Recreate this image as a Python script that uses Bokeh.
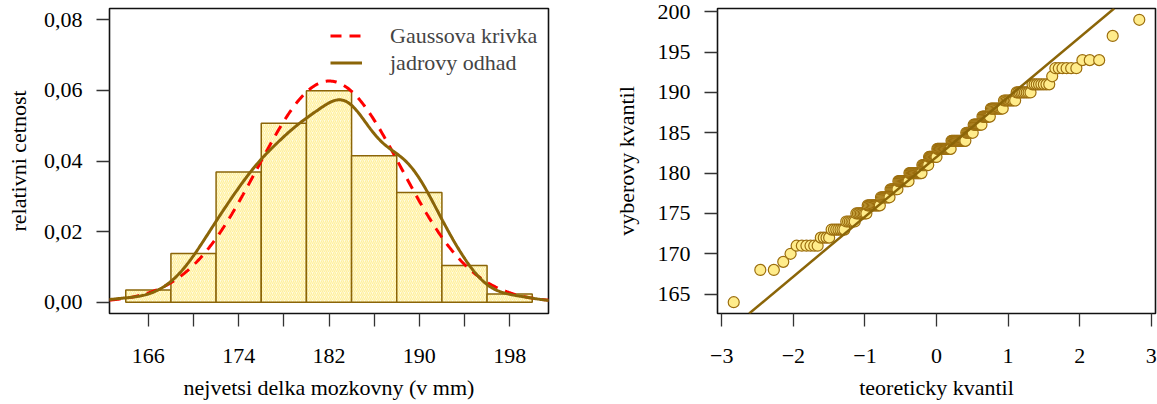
import numpy as np
from statistics import NormalDist
from bokeh.plotting import figure
from bokeh.layouts import row
from bokeh.models import FixedTicker, Range1d, Legend, LegendItem, Slope
from bokeh.embed import file_html
from bokeh.resources import INLINE

# ---- data ----
# sample values (mm) and how many times each occurs (read from the QQ plot steps)
values = [164, 168, 169, 170, 171, 172, 173, 174, 175, 176, 177, 178, 179, 180, 181,
          182, 183, 184, 185, 186, 187, 188, 189, 190, 191, 192, 193, 194, 197, 199]
freqs = [1, 2, 1, 1, 6, 4, 7, 6, 8, 11, 9, 8, 12, 15, 8,
         10, 17, 17, 8, 9, 8, 11, 9, 9, 8, 1, 6, 3, 1, 1]
breaks = [164, 168, 172, 176, 180, 184, 188, 192, 196, 200]
hist_ylim = [0.0, 0.08]

hist_xticks = [166, 170, 174, 178, 182, 186, 190, 194, 198]
hist_xlabels = ["166", "", "174", "", "182", "", "190", "", "198"]
hist_yticks = [0.0, 0.02, 0.04, 0.06, 0.08]
hist_ylabels = ["0,00", "0,02", "0,04", "0,06", "0,08"]
qq_xticks = [-3, -2, -1, 0, 1, 2, 3]
qq_xlabels = ["\u22123", "\u22122", "\u22121", "0", "1", "2", "3"]
qq_yticks = [165, 170, 175, 180, 185, 190, 195, 200]
qq_ylabels = ["165", "170", "175", "180", "185", "190", "195", "200"]
legend_labels = ["Gaussova krivka", "jadrovy odhad"]
titles = {"hx": "nejvetsi delka mozkovny (v mm)", "hy": "relativni cetnost",
          "qx": "teoreticky kvantil", "qy": "vyberovy kvantil"}

# ---- statistics ----
sample = np.sort(np.repeat(np.array(values, float), freqs))
n = len(sample)
counts = []
for i in range(len(breaks) - 1):
    lo, hi = breaks[i], breaks[i + 1]
    c = np.sum((sample > lo) & (sample <= hi))
    if i == 0:
        c += np.sum(sample == lo)
    counts.append(c)
counts = np.array(counts, float)
widths = np.diff(breaks)
dens = counts / (n * widths)

mean = sample.mean()
sd = sample.std(ddof=1)
q1, q3 = np.quantile(sample, [0.25, 0.75])
bw = 0.9 * min(sd, (q3 - q1) / 1.34) * n ** (-0.2)

def ext(lo, hi):
    d = (hi - lo) * 0.04
    return lo - d, hi + d

hx0, hx1 = ext(breaks[0], breaks[-1])
hy0, hy1 = ext(*hist_ylim)

gx = np.linspace(hx0, hx1, 400)
gy = np.exp(-0.5 * ((gx - mean) / sd) ** 2) / (sd * np.sqrt(2 * np.pi))

kx = np.linspace(sample.min() - 3 * bw, sample.max() + 3 * bw, 512)
ky = np.exp(-0.5 * ((kx[:, None] - sample[None, :]) / bw) ** 2).sum(axis=1) / (n * bw * np.sqrt(2 * np.pi))

nd = NormalDist()
qx = np.array([nd.inv_cdf((i - 0.5) / n) for i in range(1, n + 1)])
z1, z3 = nd.inv_cdf(0.25), nd.inv_cdf(0.75)
slope = (q3 - q1) / (z3 - z1)
icpt = q1 - slope * z1
qx0, qx1 = ext(qx.min(), qx.max())
qy0, qy1 = ext(sample.min(), sample.max())

# ---- styling ----
FONT = "Liberation Serif"
FS = "22px"
BROWN = "#8B6508"
RED = "#FF0000"

def style(p, xt, xl, yt, yl, xlab, ylab, ystand):
    p.xgrid.grid_line_color = None
    p.ygrid.grid_line_color = None
    p.outline_line_color = "#111111"
    p.outline_line_width = 1.6
    p.outline_line_alpha = 1
    p.background_fill_color = "white"
    for ax, t, l in ((p.xaxis[0], xt, xl), (p.yaxis[0], yt, yl)):
        ax.ticker = FixedTicker(ticks=t)
        ax.major_label_overrides = {k: v for k, v in zip(t, l)}
        ax.axis_line_color = None
        ax.major_tick_out = 13
        ax.major_tick_in = 0
        ax.minor_tick_out = 0
        ax.minor_tick_in = 0
        ax.major_tick_line_color = "#333333"
        ax.major_tick_line_width = 1.3
        ax.major_label_text_font = FONT
        ax.major_label_text_font_size = FS
        ax.major_label_text_color = "black"
        ax.axis_label_text_font = FONT
        ax.axis_label_text_font_size = FS
        ax.axis_label_text_font_style = "normal"
        ax.axis_label_text_color = "black"
    p.xaxis[0].axis_label = xlab
    p.yaxis[0].axis_label = ylab
    p.xaxis[0].major_label_standoff = 22
    p.xaxis[0].axis_label_standoff = 9
    p.yaxis[0].major_label_standoff = 14
    p.yaxis[0].major_label_orientation = "horizontal"
    p.yaxis[0].axis_label_standoff = ystand

p1 = figure(width=600, height=404, x_range=Range1d(hx0, hx1), y_range=Range1d(hy0, hy1),
            output_backend="svg", toolbar_location=None,
            min_border_left=109, min_border_right=52, min_border_top=8, min_border_bottom=91)
style(p1, hist_xticks, hist_xlabels, hist_yticks, hist_ylabels, titles["hx"], titles["hy"], 10)

p1.quad(left=breaks[:-1], right=breaks[1:], bottom=0, top=dens,
        fill_color="#FFFCE2", line_color=BROWN, line_width=1.5,
        hatch_pattern="/", hatch_color="#FFEF9C", hatch_scale=4, hatch_weight=1.2)
r_g = p1.line(gx, gy, line_color=RED, line_width=3, line_dash="11 8")
r_k = p1.line(kx, ky, line_color=BROWN, line_width=3)

legend = Legend(items=[LegendItem(label=legend_labels[0], renderers=[r_g]),
                       LegendItem(label=legend_labels[1], renderers=[r_k])],
                location=(221, 237), glyph_width=32, glyph_height=27, label_height=27,
                label_standoff=28, spacing=0, padding=0, margin=0,
                border_line_color=None, background_fill_alpha=0,
                label_text_font=FONT, label_text_font_size=FS)
p1.add_layout(legend)

p2 = figure(width=557, height=404, x_range=Range1d(qx0, qx1), y_range=Range1d(qy0, qy1),
            output_backend="svg", toolbar_location=None,
            min_border_left=117, min_border_right=2, min_border_top=7, min_border_bottom=91)
style(p2, qq_xticks, qq_xlabels, qq_yticks, qq_ylabels, titles["qx"], titles["qy"], 16)
p2.add_layout(Slope(gradient=slope, y_intercept=icpt, line_color=BROWN, line_width=2.5))
p2.scatter(qx, sample, size=11, fill_color="#FFEC8B", line_color="#9C6E0E", line_width=1.2)

layout = row(p1, p2)
open("out.html", "w").write(file_html(layout, INLINE))
